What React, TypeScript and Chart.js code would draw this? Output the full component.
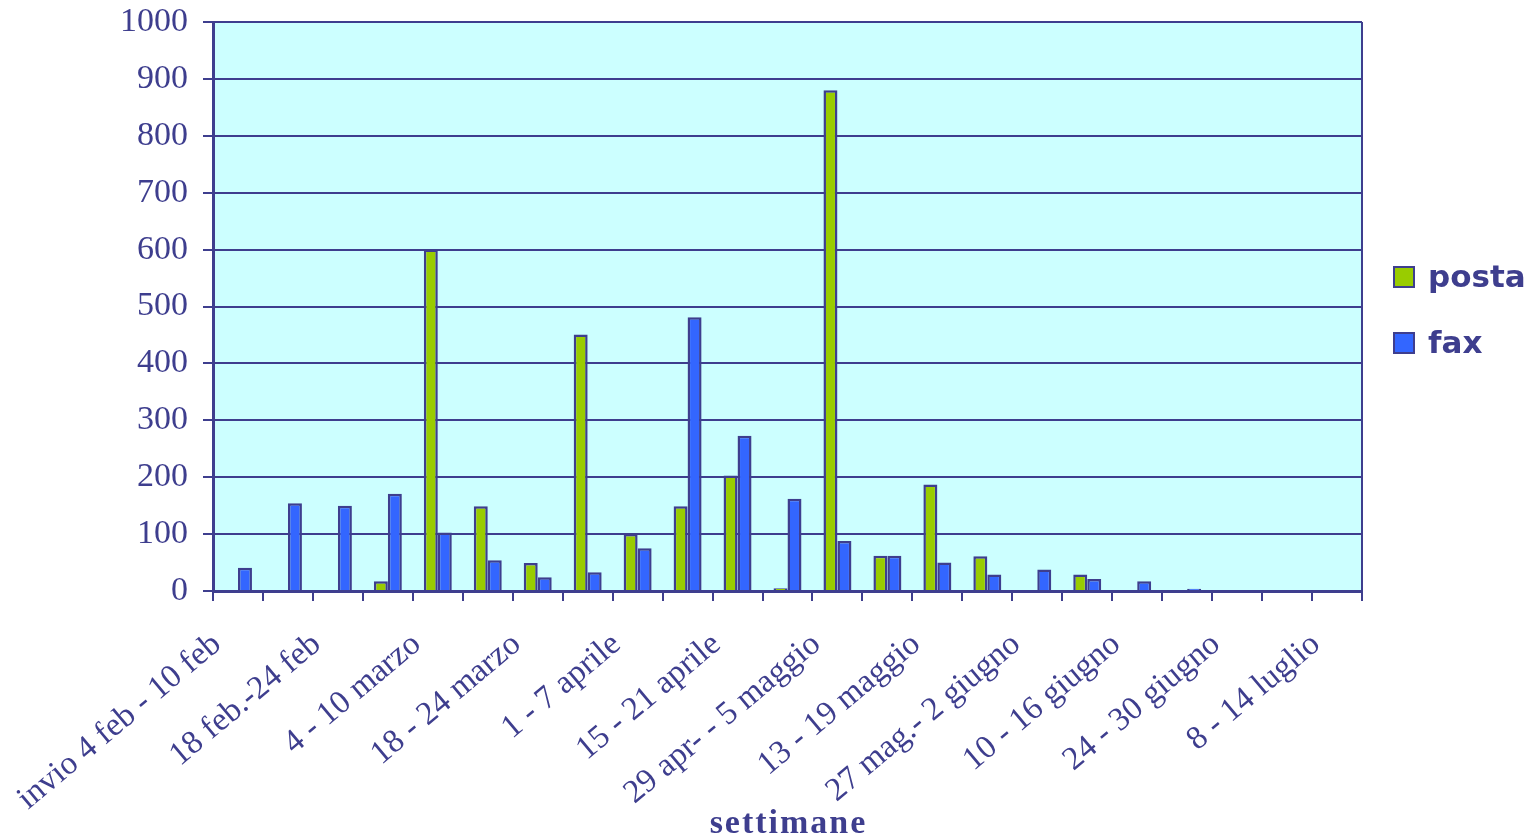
import React, { useEffect, useRef } from 'react';
import { Chart, registerables } from 'chart.js';

Chart.register(...registerables);

// ---- data ----
const categories: string[] = [
  'invio 4 feb - 10 feb', '', '18 feb.-24 feb', '', '4 - 10 marzo', '',
  '18 - 24 marzo', '', '1 - 7 aprile', '', '15 - 21 aprile', '',
  '29 apr- - 5 maggio', '', '13 - 19 maggio', '', '27 mag.- 2 giugno', '',
  '10 - 16 giugno', '', '24 - 30 giugno', '', '8 - 14 luglio',
];
const posta: number[] = [0, 0, 0, 17, 600, 149, 49, 451, 100, 149, 203, 5, 880, 62, 187, 61, 0, 29, 0, 0, 0, 0, 0];
const fax: number[] = [41, 154, 150, 171, 103, 54, 24, 33, 75, 481, 273, 162, 88, 62, 50, 29, 38, 21, 17, 4, 0, 0, 0];
const seriesNames: string[] = ['posta', 'fax'];
const yTickValues: number[] = [0, 100, 200, 300, 400, 500, 600, 700, 800, 900, 1000];
const xAxisTitle = 'settimane';

// ---- styles ----
const NAVY = '#3e3e8e';
const SERIF = '"Liberation Serif", "Times New Roman", serif';

const decorPlugin = {
  id: 'decor',
  beforeDraw(chart: any) {
    const { ctx, chartArea } = chart;
    const { left, top, right, bottom } = chartArea;
    ctx.save();
    ctx.fillStyle = '#CCFFFF';
    ctx.fillRect(left, top, right - left, bottom - top);
    ctx.restore();
  },
  afterDraw(chart: any) {
    const { ctx, chartArea } = chart;
    const { left, top, right, bottom } = chartArea;
    ctx.save();
    // right border of plot area
    ctx.strokeStyle = NAVY;
    ctx.lineWidth = 2;
    ctx.beginPath();
    ctx.moveTo(right, top);
    ctx.lineTo(right, bottom + 10);
    ctx.stroke();

    // legend
    ctx.font = 'bold 31px "DejaVu Sans", sans-serif';
    ctx.textBaseline = 'alphabetic';
    ctx.textAlign = 'left';
    chart.data.datasets.forEach((ds: any, i: number) => {
      const bx = right + 32;
      const by = 267 + i * 66;
      ctx.fillStyle = ds.backgroundColor;
      ctx.fillRect(bx, by, 20, 20);
      ctx.strokeStyle = NAVY;
      ctx.lineWidth = 2;
      ctx.strokeRect(bx, by, 20, 20);
      ctx.fillStyle = NAVY;
      ctx.fillText(ds.label, bx + 34, by + 20);
    });

    // x axis title
    ctx.font = `bold 34px ${SERIF}`;
    (ctx as any).letterSpacing = '2px';
    ctx.textAlign = 'center';
    ctx.fillStyle = NAVY;
    ctx.fillText(xAxisTitle, (left + right) / 2 + 1, 833);
    ctx.restore();
  },
};

export default function App() {
  const canvasRef = useRef<HTMLCanvasElement | null>(null);

  useEffect(() => {
    if (!canvasRef.current) return;
    const chart = new Chart(canvasRef.current, {
      type: 'bar',
      data: {
        labels: categories,
        datasets: [
          {
            label: seriesNames[0],
            data: posta,
            backgroundColor: '#99CC00',
            borderColor: NAVY,
            borderWidth: 2.5,
            categoryPercentage: 0.56,
            barPercentage: 1,
          },
          {
            label: seriesNames[1],
            data: fax,
            backgroundColor: '#3366FF',
            borderColor: NAVY,
            borderWidth: 2.5,
            categoryPercentage: 0.56,
            barPercentage: 1,
          },
        ],
      },
      options: {
        responsive: false,
        animation: false,
        devicePixelRatio: 1,
        layout: { padding: { top: 22, right: 178, bottom: 0, left: 0 } },
        plugins: {
          legend: { display: false },
          tooltip: { enabled: false },
          title: { display: false },
        },
        scales: {
          x: {
            offset: true,
            grid: {
              display: true,
              offset: true,
              drawOnChartArea: false,
              drawTicks: true,
              tickLength: 10,
              color: NAVY,
              lineWidth: 2,
            },
            border: { display: true, color: NAVY, width: 3 },
            ticks: {
              autoSkip: false,
              maxRotation: 40,
              minRotation: 40,
              color: NAVY,
              font: { family: SERIF, size: 33 },
              padding: 24,
              labelOffset: -21,
            },
            afterFit: (s: any) => {
              s.height = 247;
              s.paddingLeft = 0;
              s.paddingRight = 0;
            },
          },
          y: {
            min: 0,
            max: 1000,
            ticks: {
              stepSize: 100,
              color: NAVY,
              font: { family: SERIF, size: 34 },
              padding: 15,
              callback: (v: any) => String(v),
            },
            afterBuildTicks: (s: any) => {
              s.ticks = yTickValues.map((v) => ({ value: v }));
            },
            grid: {
              color: NAVY,
              lineWidth: 2,
              drawTicks: true,
              tickLength: 10,
            },
            border: { display: true, color: NAVY, width: 3 },
            afterFit: (s: any) => {
              s.width = 213;
              s.paddingTop = 0;
              s.paddingBottom = 0;
            },
          },
        },
      },
      plugins: [decorPlugin],
    } as any);
    return () => chart.destroy();
  }, []);

  return (
    <div style={{ position: 'absolute', left: 0, top: 0, width: 1540, height: 838, background: '#ffffff' }}>
      <canvas ref={canvasRef} width={1540} height={838} style={{ display: 'block' }} />
    </div>
  );
}
